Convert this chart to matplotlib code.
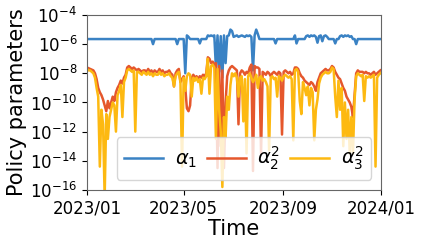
import numpy as np
import pandas as pd
import matplotlib
matplotlib.use("Agg")
import matplotlib.pyplot as plt
import matplotlib.dates as mdates
from matplotlib.ticker import FixedLocator, NullLocator

# dates every 2 days across 2023
dates = pd.date_range("2023-01-01", periods=183, freq="2D")

# log10 of the parameter values
alpha1_log = [
    -5.65, -5.65, -5.65, -5.65, -5.65, -5.65, -5.65, -5.65, -5.65, -5.65,
    -5.65, -5.65, -5.65, -5.65, -5.65, -5.65, -5.65, -5.65, -5.65, -5.65,
    -5.65, -5.65, -5.65, -5.65, -5.65, -5.65, -5.65, -5.65, -5.65, -5.65,
    -5.65, -5.65, -5.65, -5.65, -5.65, -5.65, -5.65, -5.65, -5.65, -5.65,
    -5.65, -6.0, -5.65, -5.65, -5.65, -5.65, -5.65, -5.65, -5.65, -5.65,
    -5.65, -5.65, -5.65, -5.65, -5.65, -5.65, -6.0, -5.65, -5.65, -5.65,
    -5.65, -8.0, -5.4, -5.5, -5.65, -5.65, -5.65, -5.65, -5.65, -5.65,
    -5.95, -5.65, -5.65, -5.65, -5.65, -5.4, -5.45, -5.4, -5.45, -5.4,
    -7.6, -5.4, -7.9, -5.45, -8.3, -5.4, -7.3, -5.45, -5.4, -5.0,
    -5.1, -5.5, -5.45, -5.4, -5.5, -5.45, -5.4, -5.45, -5.5, -5.4,
    -5.45, -5.4, -5.5, -7.8, -5.4, -5.0, -5.3, -5.65, -5.65, -5.65,
    -5.65, -5.65, -5.65, -5.65, -5.65, -5.65, -5.65, -5.95, -5.65, -5.65,
    -5.65, -5.65, -5.65, -5.65, -5.65, -5.65, -5.65, -5.65, -5.65, -5.4,
    -5.95, -5.65, -5.65, -5.65, -5.65, -5.65, -5.45, -5.4, -5.5, -5.4,
    -5.45, -5.4, -5.5, -5.9, -5.45, -5.4, -5.8, -5.45, -5.4, -5.5,
    -5.65, -5.65, -5.65, -5.65, -5.95, -5.65, -5.65, -5.45, -5.4, -5.5,
    -5.4, -5.45, -5.4, -5.5, -5.45, -5.65, -5.65, -6.0, -5.65, -5.65,
    -5.65, -5.65, -5.65, -5.65, -5.65, -5.65, -5.65, -5.65, -5.65, -5.65, -5.65, -5.65, -5.65,
]

alpha2_log = [
    -7.6, -7.65, -7.7, -7.75, -7.8, -8.0, -8.4, -9.0, -9.3, -9.5,
    -9.8, -10.2, -10.6, -9.9, -10.4, -10.0, -9.6, -9.9, -9.3, -9.0,
    -8.8, -8.5, -8.7, -8.3, -8.1, -7.6, -7.5, -7.6, -7.7, -7.6,
    -7.7, -7.8, -7.7, -7.8, -7.9, -7.8, -7.8, -7.9, -7.7, -7.9,
    -7.8, -8.0, -7.8, -7.9, -7.9, -7.7, -7.9, -7.8, -8.0, -7.9,
    -7.9, -7.8, -8.0, -8.1, -8.9, -8.0, -7.8, -7.7, -8.6, -8.4,
    -8.2, -9.0, -10.4, -10.6, -10.2, -8.3, -8.1, -8.3, -8.2, -8.4,
    -8.2, -8.3, -8.1, -8.2, -8.0, -6.9, -7.0, -7.3, -7.2, -7.4,
    -7.3, -14.5, -7.5, -13.0, -7.8, -14.5, -10.0, -8.2, -7.8, -7.6,
    -7.5, -7.6, -7.7, -7.8, -11.5, -8.0, -7.8, -7.9, -8.1, -7.9,
    -8.0, -7.6, -7.4, -14.7, -7.5, -7.6, -7.6, -7.7, -13.5, -7.9,
    -8.0, -8.1, -7.9, -8.0, -8.2, -8.0, -7.9, -8.0, -8.1, -7.9,
    -8.0, -12.2, -7.9, -7.8, -7.9, -8.0, -7.9, -8.1, -8.0, -7.6,
    -7.6, -7.7, -8.0, -8.2, -8.3, -8.5, -8.6, -8.7, -8.8, -8.6,
    -8.7, -8.9, -9.2, -8.6, -8.3, -8.0, -7.9, -7.8, -7.7, -7.8,
    -7.8, -7.7, -7.5, -7.6, -7.9, -8.1, -8.3, -8.4, -8.7, -9.0,
    -9.2, -9.6, -9.8, -10.0, -10.3, -11.0, -9.5, -8.0, -7.8, -7.9,
    -7.9, -7.9, -8.0, -7.9, -8.0, -8.0, -8.1, -8.0, -7.9, -8.1, -8.0, -7.9, -7.8,
]

alpha3_log = [
    -7.7, -7.8, -7.8, -7.9, -8.0, -8.3, -9.0, -9.6, -14.4, -10.5,
    -11.5, -16.5, -10.8, -12.5, -11.0, -10.5, -10.0, -10.2, -12.0, -9.5,
    -9.2, -8.8, -11.0, -8.6, -8.3, -7.8, -7.7, -7.8, -7.9, -7.8,
    -12.0, -7.9, -7.9, -8.0, -8.1, -7.9, -8.0, -8.1, -7.9, -8.1,
    -8.0, -8.2, -8.0, -8.1, -8.1, -7.9, -8.1, -8.0, -8.2, -8.1,
    -8.1, -8.0, -8.2, -8.3, -8.9, -8.2, -8.0, -7.9, -8.6, -14.4,
    -8.3, -9.2, -8.2, -8.0, -8.1, -9.6, -8.3, -8.5, -8.3, -8.6,
    -8.4, -9.4, -8.3, -8.4, -8.2, -7.0, -9.4, -7.5, -7.4, -7.6,
    -12.5, -7.7, -10.5, -12.0, -15.8, -11.0, -12.4, -9.6, -10.5, -8.8,
    -8.0, -8.2, -8.0, -8.3, -9.6, -8.3, -8.2, -11.3, -8.4, -13.5,
    -8.2, -8.0, -8.3, -8.6, -8.4, -8.1, -9.0, -8.3, -8.2, -8.5,
    -8.4, -8.6, -8.9, -13.3, -8.3, -8.2, -8.4, -8.3, -9.6, -8.2,
    -8.3, -8.5, -8.2, -8.1, -8.2, -8.3, -8.2, -8.4, -12.6, -7.8,
    -7.7, -7.9, -9.9, -10.8, -8.6, -9.0, -9.5, -8.9, -10.2, -9.0,
    -9.3, -12.6, -10.5, -9.8, -8.7, -8.3, -8.1, -8.0, -7.9, -8.0,
    -8.0, -7.9, -7.6, -7.7, -9.6, -11.0, -8.5, -10.5, -9.0, -13.0,
    -10.0, -12.5, -10.5, -13.5, -11.0, -13.5, -9.8, -8.2, -8.0, -8.1,
    -8.2, -8.1, -9.9, -8.2, -8.3, -8.2, -8.3, -8.2, -8.1, -14.4, -8.3, -8.1, -8.0,
]

series_labels = [r"$\alpha_1$", r"$\alpha_2^2$", r"$\alpha_3^2$"]
colors = ["#3a82c4", "#e5572c", "#fdb911"]
xtick_dates = ["2023-01-01", "2023-05-01", "2023-09-01", "2024-01-01"]
ytick_exps = [-16, -14, -12, -10, -8, -6, -4]

fig = plt.figure(figsize=(4.24, 2.46), dpi=100)
ax = fig.add_axes([0.205, 0.228, 0.694, 0.711])

for vals, lab, col in zip([alpha1_log, alpha2_log, alpha3_log], series_labels, colors):
    ax.plot(dates, 10.0 ** np.array(vals), color=col, lw=1.8, label=lab)

ax.set_yscale("log")
ax.set_ylim(1e-16, 1e-4)
ax.yaxis.set_major_locator(FixedLocator([10.0 ** e for e in ytick_exps]))
ax.yaxis.set_minor_locator(NullLocator())
ax.set_xlim(pd.Timestamp("2023-01-01"), pd.Timestamp("2024-01-01"))
ax.set_xticks(pd.to_datetime(xtick_dates))
ax.xaxis.set_major_formatter(mdates.DateFormatter("%Y/%m"))
ax.tick_params(labelsize=12)
for s in ax.spines.values():
    s.set_edgecolor("0.4")
ax.set_xlabel("Time", fontsize=15, labelpad=1)
ax.set_ylabel("Policy parameters", fontsize=15, labelpad=2)
ax.legend(loc="lower right", ncol=3, fontsize=14, handlelength=2,
          columnspacing=0.5, handletextpad=0.6, borderpad=0.4)

fig.savefig("out.png", dpi=100)
